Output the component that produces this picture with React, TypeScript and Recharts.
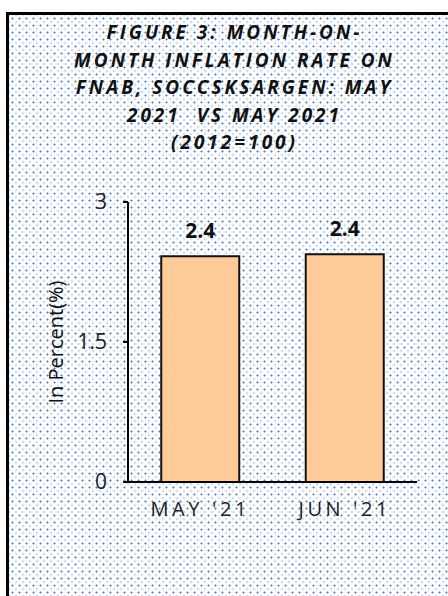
import React from 'react';
import { BarChart, Bar, XAxis, YAxis, LabelList, Label } from 'recharts';

const months = ["MAY '21", "JUN '21"];
const rates = [2.42, 2.44];
const rateLabels = ['2.4', '2.4'];
const yTicks = [0, 1.5, 3];
const titleLines = [
  'FIGURE 3: MONTH-ON-',
  'MONTH INFLATION RATE ON',
  'FNAB, SOCCSKSARGEN: MAY',
  '2021  VS MAY 2021',
  '(2012=100)',
];

const data = months.map((m, i) => ({ month: m, rate: rates[i], label: rateLabels[i] }));

const font = 'Open Sans, Lato, sans-serif';

const dots =
  'radial-gradient(circle, rgba(50,110,205,0.85) 0.8px, transparent 1.3px), ' +
  'radial-gradient(circle, rgba(50,110,205,0.5) 0.7px, transparent 1.2px)';

const App = () => {
  return (
    <div style={{ position: 'absolute', left: 0, top: 0, width: 448, height: 596, overflow: 'hidden', background: '#fff' }}>
      <div
        style={{
          position: 'absolute',
          left: 6,
          top: 12,
          width: 460,
          height: 610,
          border: '3px solid #000',
          backgroundColor: '#fff',
          backgroundImage: dots,
          backgroundSize: '7px 7px, 7px 7px',
          backgroundPosition: '0 0, 3.5px 3.5px',
        }}
      />
      <div style={{ position: 'absolute', left: 0, top: 19, width: 469, textAlign: 'center', fontFamily: font }}>
        {titleLines.map((t) => (
          <div
            key={t}
            style={{
              fontSize: 19,
              fontWeight: 700,
              fontStyle: 'italic',
              letterSpacing: 3.0,
              lineHeight: '27.5px',
              color: '#111',
              whiteSpace: 'pre',
            }}
          >
            {t}
          </div>
        ))}
      </div>
      <div style={{ position: 'absolute', left: 0, top: 0 }}>
        <BarChart
          width={448}
          height={596}
          data={data}
          margin={{ top: 202, right: 31, bottom: 84, left: 68 }}
          barCategoryGap="23%"
        >
          <XAxis
            dataKey="month"
            axisLine={{ stroke: '#000', strokeWidth: 2 }}
            tickLine={false}
            height={30}
            tick={{ fill: '#222', fontSize: 20, fontFamily: font, letterSpacing: 3.6 }}
            tickMargin={14}
          />
          <YAxis
            width={60}
            domain={[0, 3]}
            ticks={yTicks}
            axisLine={{ stroke: '#000', strokeWidth: 2 }}
            tickLine={{ stroke: '#000', strokeWidth: 2 }}
            tickSize={5}
            tickMargin={16}
            tick={{ fill: '#222', fontSize: 21, fontFamily: font }}
          >
            <Label
              value="In Percent(%)"
              angle={-90}
              position="insideLeft"
              offset={-12}
              style={{ textAnchor: 'middle', fill: '#111', fontSize: 20, fontFamily: font }}
            />
          </YAxis>
          <Bar dataKey="rate" fill="#FFCC99" stroke="#111" strokeWidth={2} isAnimationActive={false}>
            <LabelList
              dataKey="label"
              position="top"
              offset={18}
              style={{ fill: '#111', fontSize: 21, fontWeight: 700, fontFamily: font }}
            />
          </Bar>
        </BarChart>
      </div>
    </div>
  );
};

export default App;
